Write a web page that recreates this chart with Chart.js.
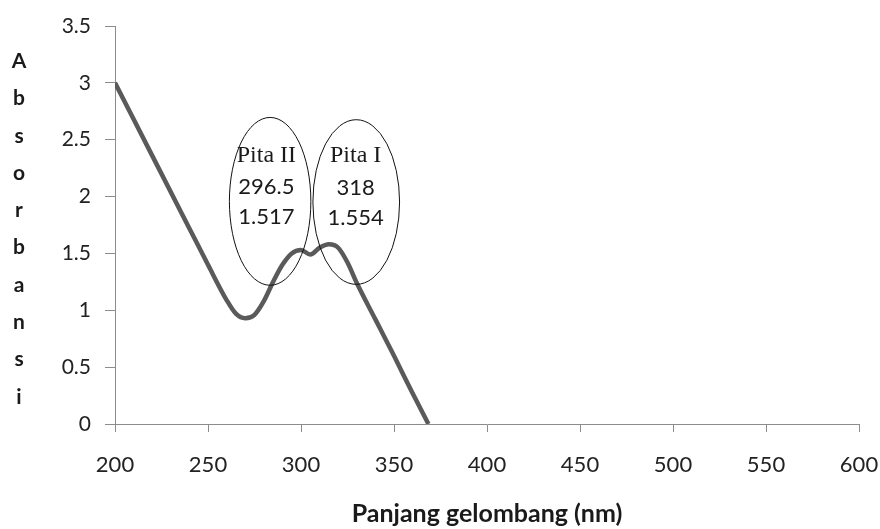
<!DOCTYPE html>
<html>
<head>
<meta charset="utf-8">
<script src="https://cdn.jsdelivr.net/npm/chart.js@4/dist/chart.umd.min.js"></script>
<style>
  body { margin: 0; background: #fff; }
</style>
</head>
<body>
<canvas id="chart" width="880" height="529"></canvas>
<script>
'use strict';

// spectrum
var wavelength = [200, 220, 240, 250, 260, 265, 270, 275, 280, 285, 290, 295, 300, 305, 310, 315, 320, 325, 330, 340, 350, 360, 368.5];
var absorbance = [3.0, 2.36, 1.72, 1.40, 1.09, 0.97, 0.93, 0.96, 1.08, 1.25, 1.40, 1.50, 1.53, 1.49, 1.55, 1.58, 1.55, 1.42, 1.24, 0.92, 0.60, 0.27, 0.0];

var xTicks = [200, 250, 300, 350, 400, 450, 500, 550, 600];
var yTicks = [0, 0.5, 1, 1.5, 2, 2.5, 3, 3.5];

var bandNames = ['Pita II', 'Pita I'];
var bandPeak = ['296.5', '318'];
var bandAbs = ['1.517', '1.554'];

var xTitle = 'Panjang gelombang (nm)';
var yTitle = 'Absorbansi';

// ellipse centres / radii in data units
var bandEllipse = [
  { cx: 283.4, cy: 1.958, rx: 21.9, ry: 0.738, tx: 281.4 },
  { cx: 329.7, cy: 1.952, rx: 23.3, ry: 0.724, tx: 329.4 }
];

var points = [];
for (var i = 0; i < wavelength.length; i++) {
  points.push({ x: wavelength[i], y: absorbance[i] });
}

var ctx = document.getElementById('chart').getContext('2d');

var bandPlugin = {
  id: 'bands',
  afterDatasetsDraw: function (chart) {
    var c = chart.ctx;
    var xs = chart.scales.x;
    var ys = chart.scales.y;
    for (var i = 0; i < bandEllipse.length; i++) {
      var e = bandEllipse[i];
      var cx = xs.getPixelForValue(e.cx);
      var cy = ys.getPixelForValue(e.cy);
      var rx = xs.getPixelForValue(e.cx + e.rx) - cx;
      var ry = cy - ys.getPixelForValue(e.cy + e.ry);
      c.save();
      c.beginPath();
      c.ellipse(cx, cy, rx, ry, 0, 0, Math.PI * 2);
      c.strokeStyle = '#111';
      c.lineWidth = 1;
      c.stroke();

      var tx = xs.getPixelForValue(e.tx);
      c.textAlign = 'center';
      c.textBaseline = 'middle';
      c.fillStyle = '#1a1a1a';
      c.font = '24px "Liberation Serif", serif';
      c.fillText(bandNames[i], tx, cy - 46);
      c.font = '22px Lato, sans-serif';
      c.fillText(bandPeak[i], tx, cy - 14);
      c.fillText(bandAbs[i], tx, cy + 16);
      c.restore();
    }

    // vertical y title, one letter per line
    var area = chart.chartArea;
    var mid = (area.top + area.bottom) / 2 + 4;
    var step = 37.3;
    c.save();
    c.font = 'bold 21px Lato, sans-serif';
    c.fillStyle = '#1a1a1a';
    c.textAlign = 'center';
    c.textBaseline = 'middle';
    for (var k = 0; k < yTitle.length; k++) {
      c.fillText(yTitle[k], 19, mid + (k - (yTitle.length - 1) / 2) * step);
    }
    c.restore();
  }
};

var chart = new Chart(ctx, {
  type: 'line',
  data: {
    datasets: [{
      data: points,
      borderColor: '#5a5a5a',
      borderWidth: 4.5,
      pointRadius: 0,
      fill: false,
      cubicInterpolationMode: 'monotone'
    }]
  },
  options: {
    responsive: false,
    animation: false,
    layout: { padding: { top: 26, right: 21, left: 0, bottom: 0 } },
    plugins: {
      legend: { display: false },
      tooltip: { enabled: false }
    },
    scales: {
      x: {
        type: 'linear',
        min: 200,
        max: 600,
        afterBuildTicks: function (scale) {
          scale.ticks = xTicks.map(function (v) { return { value: v }; });
        },
        afterFit: function (scale) {
          scale.height = 105;
          scale.paddingLeft = 0;
          scale.paddingRight = 0;
        },
        grid: {
          drawOnChartArea: false,
          drawTicks: true,
          tickLength: 8,
          color: '#8c8c8c'
        },
        border: { color: '#8c8c8c', width: 1 },
        ticks: {
          font: { family: 'Lato', size: 22 },
          color: '#222',
          padding: 20,
          maxRotation: 0
        },
        title: {
          display: true,
          text: xTitle,
          font: { family: 'Lato', size: 25, weight: 'bold' },
          color: '#1a1a1a',
          padding: { top: 10, bottom: 0 }
        }
      },
      y: {
        min: 0,
        max: 3.5,
        afterBuildTicks: function (scale) {
          scale.ticks = yTicks.map(function (v) { return { value: v }; });
        },
        afterFit: function (scale) {
          scale.width = 115;
          scale.paddingTop = 0;
          scale.paddingBottom = 0;
        },
        grid: {
          drawOnChartArea: false,
          drawTicks: true,
          tickLength: 10,
          color: '#8c8c8c'
        },
        border: { color: '#8c8c8c', width: 1 },
        ticks: {
          font: { family: 'Lato', size: 21 },
          color: '#222',
          padding: 14,
          callback: function (v) { return String(v); }
        }
      }
    }
  },
  plugins: [bandPlugin]
});
</script>
</body>
</html>
